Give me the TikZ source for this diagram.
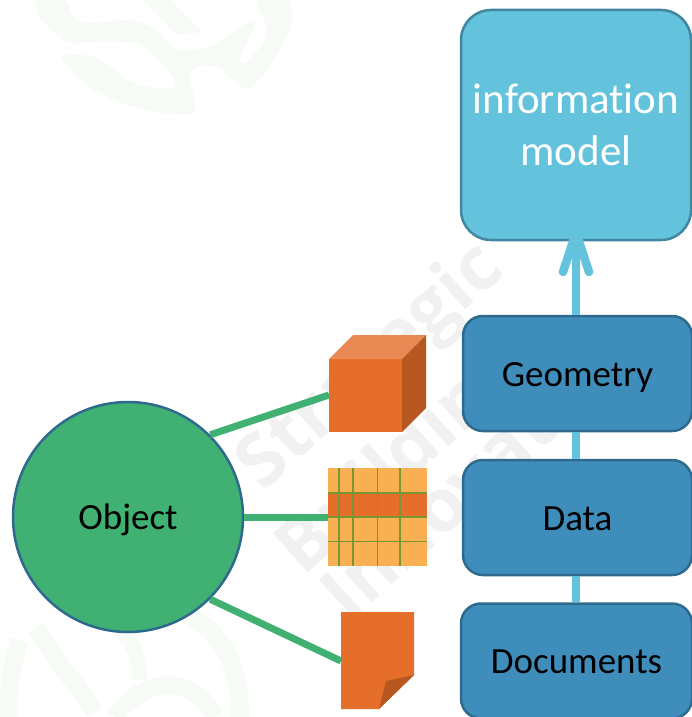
\documentclass[tikz,border=0pt]{standalone}
\usepackage{fontspec}
\setmainfont[Ligatures=NoCommon]{Carlito}
\newfontfamily\markfont{Open Sans}
\usetikzlibrary{arrows.meta,positioning}
\definecolor{bimcyan}{RGB}{99,194,220}
\definecolor{bimcyandark}{RGB}{65,135,159}
\definecolor{bimblue}{RGB}{63,141,187}
\definecolor{bimbluedark}{RGB}{46,106,142}
\definecolor{bimgreen}{RGB}{65,177,115}
\definecolor{bimorange}{RGB}{229,111,42}
\definecolor{bimorangelight}{RGB}{233,138,85}
\definecolor{bimorangedark}{RGB}{182,88,32}
\definecolor{bimtable}{RGB}{248,176,82}
\definecolor{bimgrid}{RGB}{120,150,50}
\definecolor{bimmark}{RGB}{241,241,241}
\definecolor{bimleaf}{RGB}{247,251,245}
\tikzset{
  layerbox/.style={draw=bimbluedark,fill=bimblue,line width=2.5pt,rounded corners=20pt,font=\fontsize{37}{37}\selectfont,inner sep=0pt,text height=25pt,text depth=0pt},
  linkline/.style={bimgreen,line width=7pt},
  riseline/.style={bimcyan,line width=8.5pt},
  gridline/.style={bimgrid,line width=1.5pt},
  leafline/.style={bimleaf,line width=18pt},
  markword/.style={bimmark,font=\markfont\fontsize{74}{74}\selectfont\bfseries,rotate=42}
}
\begin{document}
\begin{tikzpicture}[x=1pt,y=-1pt]
  \useasboundingbox (0,0) rectangle (692,717);
  % faint marks behind
  \fill[bimleaf] plot[smooth cycle,tension=0.5] coordinates {(38,-2) (40,17) (67,42) (100,42) (140,45) (170,73) (173,88) (133,83) (97,58) (62,57) (90,87) (133,107) (193,113) (190,72) (217,67) (250,88) (290,30) (287,-2) (257,-2) (267,33) (247,62) (240,58) (255,20) (213,45) (177,50) (157,30) (127,20) (80,22) (63,-2)};
  \fill[bimleaf] (143,0) -- (177,35) -- (203,32) -- (170,0) -- cycle;
  \draw[leafline] (150,605) .. controls (210,612) and (240,650) .. (240,717);
  \draw[leafline] (35,628) -- (95,712);
  \draw[leafline] (115,717) .. controls (140,680) and (190,670) .. (215,717);
  \draw[leafline,line width=15pt] (110,620) .. controls (130,635) and (140,655) .. (140,680);
  \draw[leafline] (20,640) .. controls (10,670) and (8,690) .. (8,717);
  \node[markword] at (372,368) {Strategic};
  \node[markword] at (403,462) {Building};
  \node[markword] at (480,468) {Innovation};
  % layer boxes
  \node[layerbox,fill=bimcyan,draw=bimcyandark,rounded corners=30pt,minimum width=230pt,minimum height=230pt,align=center,text=white,font=\fontsize{43}{52}\selectfont,text height=,text depth=] (model) at (576,125) {information\\model};
  \node[layerbox,minimum width=229pt,minimum height=115pt] (geometry) at (577.5,373.5) {Geometry};
  \node[layerbox,minimum width=229pt,minimum height=115pt] (data) at (577.5,517.5) {Data};
  \node[layerbox,minimum width=231pt,minimum height=115pt] (documents) at (576.5,661) {Documents};
  % rising line
  \draw[riseline] (documents.north -| model.south) -- (data.south -| model.south);
  \draw[riseline] (data.north -| model.south) -- (geometry.south -| model.south);
  \draw[riseline] (geometry.north -| model.south) -- ([yshift=10pt]model.south);
  \coordinate (headleft) at (563,272);
  \coordinate (headright) at (589,272);
  \draw[riseline,line cap=round,miter limit=10] (headleft) -- ([yshift=9pt]model.south) -- (headright);
  % object
  \node[circle,draw=bimbluedark,fill=bimgreen,line width=2.5pt,minimum size=230pt,inner sep=0pt,font=\fontsize{37}{37}\selectfont,text height=25pt,text depth=0pt] (object) at (128,517) {Object};
  % cube
  \fill[bimorange] (329,359) rectangle (402,432);
  \fill[bimorangelight] (329,359) -- (353,335) -- (426,335) -- (402,359) -- cycle;
  \fill[bimorangedark] (402,359) -- (426,335) -- (426,408) -- (402,432) -- cycle;
  % table
  \fill[bimtable] (328,468) rectangle (427,566);
  \fill[bimorange] (328,493) rectangle (427,517);
  \foreach \gx in {339,353,377.5,400}
    \draw[gridline] (\gx,468) -- (\gx,566);
  \foreach \gy in {493,517,541.5}
    \draw[gridline] (328,\gy) -- (427,\gy);
  % page
  \fill[bimorange] (341,612) -- (414,612) -- (414,675) -- (379,709) -- (341,709) -- cycle;
  \fill[bimorangedark] (379,709) -- (386,681) -- (414,675) -- cycle;
  % links
  \coordinate (cubeport) at (329,395);
  \coordinate (tableport) at (328,517);
  \coordinate (pageport) at (341,661);
  \draw[linkline] (object.45) -- (cubeport);
  \draw[linkline] (object.east) -- (tableport);
  \draw[linkline] (object.-45) -- (pageport);
\end{tikzpicture}
\end{document}
